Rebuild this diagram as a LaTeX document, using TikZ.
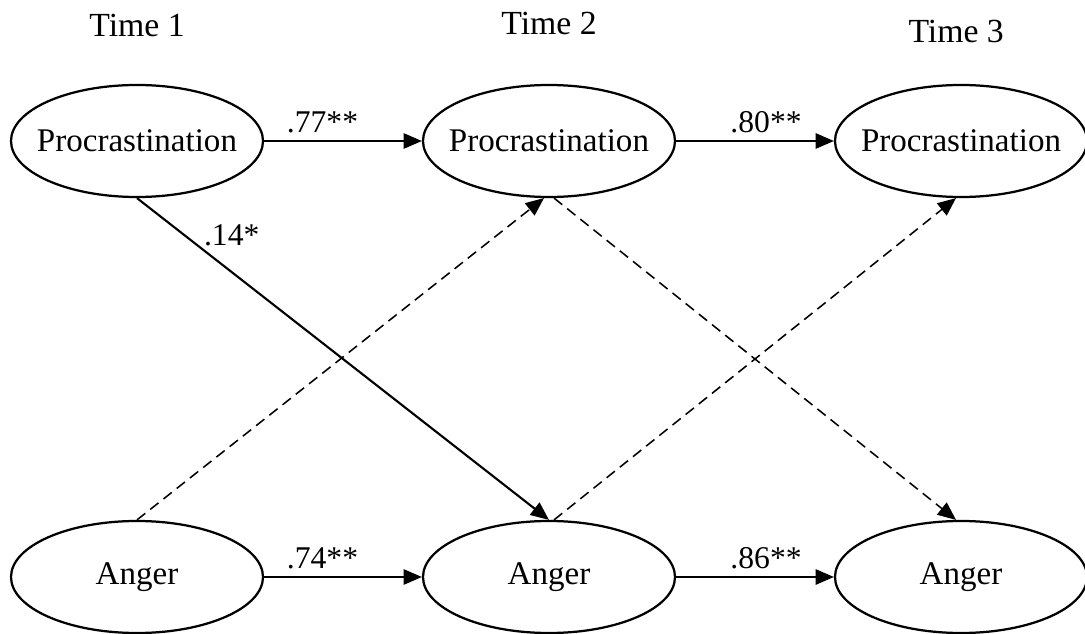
\documentclass[tikz,border=0pt]{standalone}
\usepackage{fontspec}
\setmainfont{Liberation Serif}
\usepackage{tikz}
\usetikzlibrary{shapes,arrows.meta,positioning}

\begin{document}
\begin{tikzpicture}[node distance=10.3cm]

\tikzstyle{latent} = [ellipse, draw=black, line width=1.6pt, minimum width=6.3cm, minimum height=2.8cm, inner xsep=-0.3cm, inner ysep=0pt, text centered, font=\fontsize{23.5}{28}\selectfont]
\tikzstyle{timelabel} = [font=\fontsize{24}{28}\selectfont]
\tikzstyle{coef} = [font=\fontsize{22.5}{26}\selectfont, inner sep=2pt]
\tikzstyle{arrow} = [line width=1pt,-{Triangle[length=13pt,width=11pt]}]
\tikzstyle{crossarrow} = [arrow, line width=1.1pt, dash pattern=on 7.5pt off 4.5pt]

\useasboundingbox (-3.425,-12.325) rectangle (23.7,3.525);

\node (p1) [latent] {Procrastination};
\node (p2) [latent, right of=p1] {Procrastination};
\node (p3) [latent, right of=p2] {Procrastination};
\node (a1) [latent, below of=p1, yshift=-0.6cm] {Anger};
\node (a2) [latent, right of=a1] {Anger};
\node (a3) [latent, right of=a2] {Anger};

\node (t1) [timelabel, above of=p1, yshift=-7.4cm] {Time 1};
\node (t2) [timelabel, above of=p2, yshift=-7.35cm] {Time 2};
\node (t3) [timelabel, above of=p3, xshift=-0.12cm, yshift=-7.55cm] {Time 3};

\draw [arrow] (p1) -- node[coef, pos=0.37, above=3pt] {.77**} (p2);
\draw [arrow] (p2) -- node[coef, pos=0.57, above=3pt] {.80**} (p3);
\draw [arrow] (a1) -- node[coef, pos=0.37, above=3pt] {.74**} (a2);
\draw [arrow] (a2) -- node[coef, pos=0.57, above=3pt] {.86**} (a3);

\draw [arrow, line width=1.5pt] (p1.south) -- node[coef, pos=0.23, above=16pt] {.14*} (a2.north);
\draw [crossarrow] (a1.north) -- (p2.265);
\draw [crossarrow] (p2.275) -- (a3.95);
\draw [crossarrow] (a2.85) -- (p3.265);

\end{tikzpicture}
\end{document}
